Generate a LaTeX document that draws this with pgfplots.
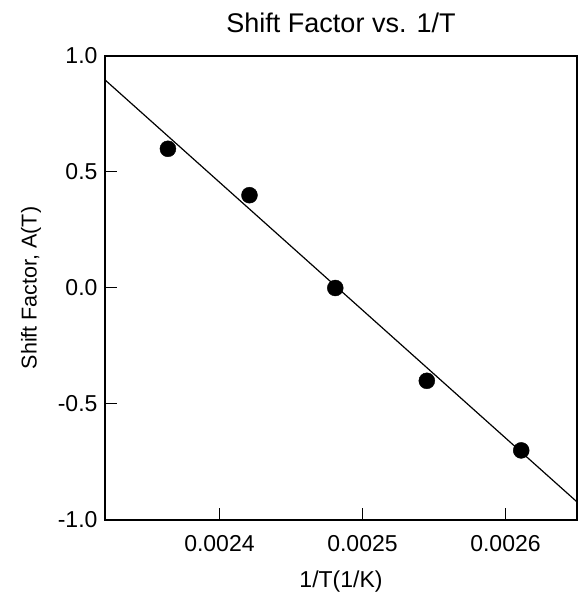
\documentclass[border=0pt]{standalone}
\usepackage{fontspec}
\setmainfont{Liberation Sans}
\usepackage{pgfplots}
\pgfplotsset{compat=1.18}
\begin{document}
\begin{tikzpicture}[x=1pt,y=1pt]
\begin{axis}[
  name=ax,
  at={(0,0)}, anchor=south west,
  scale only axis,
  width=472pt, height=464pt,
  xmin=0.00232, xmax=0.00265,
  ymin=-1, ymax=1,
  scaled x ticks=false,
  xtick={0.0024,0.0025,0.0026},
  xticklabels={0.0024,0.0025,0.0026},
  ytick={-1,-0.5,0,0.5,1},
  yticklabels={-1.0,-0.5,0.0,0.5,1.0},
  tick align=inside,
  xtick pos=bottom, ytick pos=left,
  major tick length=12pt,
  tick style={black, line width=1pt},
  axis line style={line width=1.2pt},
  /pgf/number format/assume math mode=true,
  ticklabel style={font=\fontsize{23}{25}\selectfont},
  xticklabel style={yshift=-12pt},
  yticklabel style={xshift=-4pt},
  title={Shift Factor vs. 1/T},
  title style={font=\fontsize{27}{29}\selectfont, yshift=14pt},
  xlabel={1/T(1/K)},
  ylabel={Shift Factor, A(T)},
  xlabel style={font=\fontsize{23}{25}\selectfont, yshift=-12pt},
  ylabel style={font=\fontsize{21.5}{23}\selectfont, yshift=10pt},
  clip=true,
]
\addplot[black, line width=1.2pt] coordinates {(0.00232,0.897) (0.00265,-0.922)};
\addplot[only marks, mark=*, mark size=8pt, black] coordinates {
(0.002364,0.6) (0.002421,0.4) (0.002481,0.0) (0.002545,-0.4) (0.002611,-0.7)};
\end{axis}
\useasboundingbox (ax.south west) ++(-105pt,-81pt) rectangle ++(580pt,601pt);
\end{tikzpicture}
\end{document}
